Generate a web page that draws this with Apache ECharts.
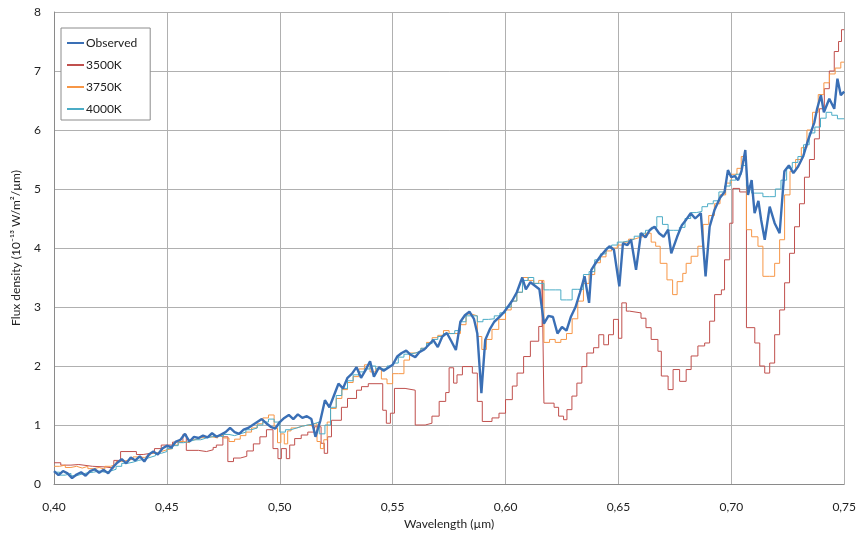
<!DOCTYPE html>
<html>
<head>
<meta charset="utf-8">
<script src="https://cdn.jsdelivr.net/npm/echarts@6/dist/echarts.min.js"></script>
<style>
html,body{margin:0;padding:0;background:#fff;}
#chart{width:859px;height:535px;}
</style>
</head>
<body>
<div id="chart"></div>
<script>
// Observed spectrum
const obsX = [0.400,0.402,0.404,0.406,0.408,0.410,0.412,0.414,0.416,0.418,0.420,0.422,0.424,0.426,0.428,0.430,0.432,0.434,0.436,0.438,0.440,0.442,0.444,0.446,0.448,0.450,0.452,0.454,0.456,0.458,0.460,0.462,0.464,0.466,0.468,0.470,0.472,0.474,0.476,0.478,0.480,0.482,0.484,0.486,0.488,0.490,0.492,0.494,0.496,0.498,0.500,0.502,0.504,0.506,0.508,0.510,0.512,0.514,0.5158,0.518,0.520,0.522,0.524,0.526,0.528,0.530,0.532,0.534,0.536,0.538,0.540,0.5417,0.544,0.546,0.548,0.550,0.552,0.554,0.556,0.558,0.560,0.562,0.564,0.566,0.568,0.570,0.572,0.574,0.576,0.578,0.580,0.582,0.584,0.586,0.5875,0.5893,0.591,0.593,0.595,0.597,0.599,0.601,0.603,0.605,0.6074,0.609,0.611,0.613,0.615,0.617,0.619,0.621,0.623,0.625,0.627,0.629,0.631,0.633,0.635,0.637,0.638,0.640,0.642,0.644,0.646,0.648,0.6504,0.652,0.654,0.6556,0.6578,0.660,0.662,0.664,0.666,0.668,0.670,0.672,0.6734,0.676,0.678,0.680,0.682,0.684,0.6865,0.6886,0.6904,0.6926,0.695,0.697,0.6985,0.700,0.7015,0.703,0.7045,0.7062,0.7074,0.709,0.7103,0.712,0.7132,0.7148,0.717,0.7192,0.7214,0.7235,0.7255,0.7275,0.7296,0.7318,0.734,0.7368,0.738,0.7397,0.741,0.7434,0.7456,0.747,0.7485,0.750];
const obsY = [0.22,0.15,0.22,0.18,0.10,0.16,0.20,0.14,0.22,0.25,0.19,0.24,0.18,0.28,0.36,0.42,0.35,0.45,0.40,0.47,0.38,0.50,0.55,0.50,0.60,0.65,0.62,0.72,0.75,0.85,0.72,0.80,0.78,0.82,0.79,0.86,0.80,0.84,0.88,0.95,0.88,0.85,0.92,0.95,1.00,1.05,1.10,1.03,0.97,0.94,1.05,1.12,1.17,1.10,1.18,1.12,1.15,1.10,0.80,1.08,1.42,1.30,1.50,1.70,1.62,1.80,1.87,1.98,1.80,1.93,2.08,1.82,1.98,1.92,1.97,2.02,2.16,2.22,2.26,2.19,2.15,2.24,2.28,2.36,2.44,2.32,2.50,2.56,2.42,2.27,2.75,2.86,2.92,2.80,2.55,1.54,2.44,2.62,2.75,2.82,2.90,3.00,3.11,3.25,3.50,3.30,3.42,3.36,3.30,2.72,2.85,2.83,2.55,2.66,2.60,2.84,3.00,3.25,3.52,3.07,3.63,3.75,3.86,3.95,4.03,3.97,3.35,4.08,4.05,4.14,3.63,4.25,4.18,4.31,4.36,4.25,4.19,4.31,3.91,4.19,4.38,4.48,4.59,4.50,4.59,3.52,4.36,4.65,4.85,4.95,5.32,5.20,5.22,5.15,5.30,5.66,4.90,5.15,4.59,4.80,4.48,4.14,4.70,4.42,4.25,5.30,5.40,5.27,5.38,5.55,5.83,6.13,6.36,6.59,6.30,6.53,6.36,6.87,6.59,6.65];

// 3500K model (step values, each held until next wavelength)
const m3500X = [0.400,0.403,0.4075,0.411,0.417,0.4225,0.4265,0.4295,0.4365,0.4395,0.4445,0.4475,0.4525,0.4571,0.4586,0.464,0.4675,0.4705,0.4719,0.4748,0.4770,0.4795,0.4825,0.4854,0.4883,0.4912,0.4941,0.4970,0.4992,0.5007,0.5029,0.5044,0.5066,0.5095,0.5124,0.5154,0.5183,0.5197,0.5212,0.5229,0.5273,0.5300,0.5340,0.5362,0.5392,0.5456,0.5472,0.5490,0.5508,0.5555,0.5600,0.5644,0.5674,0.5706,0.5735,0.5750,0.5770,0.5785,0.5809,0.5853,0.5875,0.5897,0.5940,0.5971,0.6000,0.6030,0.6051,0.6080,0.6110,0.6147,0.6162,0.6170,0.6215,0.6235,0.6257,0.6272,0.6294,0.6316,0.6338,0.6360,0.6390,0.6413,0.6435,0.6456,0.6478,0.6500,0.6515,0.6535,0.6549,0.6600,0.6622,0.6645,0.6675,0.6690,0.6720,0.6742,0.6771,0.6800,0.6822,0.6852,0.6882,0.6904,0.6926,0.6956,0.6970,0.6993,0.7007,0.7037,0.7067,0.7104,0.7126,0.7148,0.7170,0.7192,0.7214,0.7236,0.7258,0.7280,0.7302,0.7324,0.7346,0.7368,0.7390,0.7412,0.7434,0.7456,0.7475,0.7488,0.7500];
const m3500Y = [0.36,0.32,0.33,0.30,0.29,0.27,0.40,0.55,0.50,0.53,0.60,0.66,0.71,0.84,0.57,0.55,0.58,0.62,0.66,0.80,0.38,0.44,0.47,0.56,0.68,0.80,0.92,0.60,0.43,0.60,0.43,0.66,0.77,0.83,0.88,0.97,0.69,0.52,0.80,1.08,1.30,1.45,1.59,1.65,1.70,1.25,1.03,1.20,1.62,1.59,1.00,1.03,1.15,1.40,1.55,1.97,1.71,1.85,1.99,1.88,1.40,1.06,1.12,1.20,1.43,1.66,1.88,2.16,2.42,2.67,3.45,1.37,1.30,1.15,1.09,1.26,1.49,1.71,1.99,2.22,2.31,2.53,2.36,2.53,2.79,2.47,3.07,2.93,2.90,2.81,2.65,2.45,2.25,1.83,1.60,1.94,1.74,1.94,2.17,2.34,2.39,2.76,3.21,3.29,3.80,4.42,5.01,4.95,2.65,2.39,2.00,1.88,2.05,2.53,2.95,3.41,3.91,4.36,4.75,5.20,5.50,5.85,6.36,6.70,7.00,7.33,7.50,7.70,7.70];

// 3750K model
const m3750X = [0.400,0.4025,0.405,0.4075,0.410,0.4125,0.415,0.4175,0.420,0.4225,0.425,0.4275,0.430,0.4325,0.435,0.4375,0.440,0.4425,0.445,0.4475,0.450,0.4525,0.455,0.4575,0.460,0.4625,0.465,0.4675,0.470,0.4725,0.475,0.4775,0.480,0.4825,0.485,0.4875,0.490,0.4925,0.495,0.4975,0.499,0.5005,0.502,0.5035,0.505,0.5075,0.510,0.5125,0.515,0.5165,0.518,0.5195,0.521,0.5225,0.525,0.5275,0.530,0.5325,0.535,0.5375,0.540,0.5425,0.545,0.5475,0.550,0.5525,0.555,0.5575,0.560,0.5625,0.565,0.5675,0.570,0.5725,0.575,0.5775,0.580,0.5825,0.585,0.5875,0.5895,0.5915,0.594,0.597,0.600,0.6025,0.605,0.6075,0.610,0.6125,0.6147,0.617,0.6195,0.622,0.6245,0.627,0.6295,0.632,0.6345,0.637,0.6395,0.642,0.6445,0.647,0.6495,0.652,0.6545,0.657,0.6595,0.662,0.6645,0.6665,0.6685,0.6715,0.674,0.676,0.6785,0.680,0.6822,0.6852,0.6875,0.690,0.6925,0.695,0.6975,0.700,0.7025,0.7044,0.7067,0.709,0.7118,0.714,0.717,0.7192,0.7214,0.7236,0.726,0.7285,0.731,0.7335,0.736,0.7385,0.741,0.7435,0.746,0.7485,0.750];
const m3750Y = [0.30,0.32,0.28,0.30,0.27,0.30,0.26,0.28,0.25,0.30,0.33,0.38,0.40,0.42,0.46,0.45,0.48,0.52,0.55,0.58,0.60,0.66,0.72,0.70,0.75,0.78,0.80,0.80,0.78,0.82,0.78,0.72,0.76,0.82,0.88,0.95,1.02,1.12,1.17,0.95,0.70,0.85,0.68,0.90,0.95,0.98,1.00,0.98,1.02,0.72,0.60,0.75,1.05,1.28,1.45,1.60,1.72,1.82,1.95,2.02,1.90,1.95,1.78,1.70,1.87,1.87,2.10,2.22,2.25,2.30,2.40,2.48,2.52,2.60,2.55,2.55,2.70,2.88,2.85,2.50,2.28,2.45,2.62,2.79,2.95,3.10,3.25,3.50,3.45,3.40,3.45,2.40,2.45,2.40,2.45,2.55,2.80,3.10,3.40,3.55,3.75,3.85,3.95,4.00,4.05,4.10,4.15,4.18,4.20,4.25,4.10,4.03,3.74,3.46,3.21,3.43,3.57,3.74,3.86,4.03,4.40,4.55,4.75,4.90,5.10,5.25,5.35,5.55,4.31,4.19,4.03,3.52,3.52,3.74,4.14,4.90,5.30,5.50,5.70,6.00,6.30,6.60,6.80,6.95,7.05,7.15,7.15];

// 4000K model
const m4000X = [0.400,0.4025,0.405,0.4075,0.410,0.4125,0.415,0.4175,0.420,0.4225,0.425,0.4275,0.430,0.4325,0.435,0.4375,0.440,0.4425,0.445,0.4475,0.450,0.4525,0.455,0.4575,0.460,0.4625,0.465,0.4675,0.470,0.4725,0.475,0.4775,0.480,0.4825,0.485,0.4875,0.490,0.4925,0.495,0.4975,0.500,0.5025,0.505,0.5075,0.510,0.5125,0.515,0.5175,0.520,0.5225,0.525,0.5275,0.530,0.5325,0.535,0.5375,0.540,0.5425,0.545,0.5475,0.550,0.5525,0.555,0.5575,0.560,0.5625,0.565,0.5675,0.570,0.5725,0.575,0.5775,0.580,0.5825,0.585,0.5875,0.590,0.5925,0.595,0.5975,0.600,0.6025,0.605,0.6075,0.610,0.6125,0.615,0.617,0.6195,0.622,0.6245,0.627,0.6295,0.632,0.6345,0.637,0.6395,0.642,0.6445,0.647,0.6495,0.652,0.6545,0.657,0.6595,0.662,0.6645,0.667,0.6695,0.672,0.6745,0.677,0.6795,0.682,0.6845,0.687,0.6895,0.692,0.6945,0.697,0.6995,0.702,0.7045,0.7067,0.709,0.7118,0.714,0.717,0.7195,0.722,0.7245,0.727,0.7295,0.732,0.7345,0.737,0.7395,0.742,0.7445,0.747,0.750];
const m4000Y = [0.20,0.15,0.18,0.14,0.17,0.19,0.20,0.22,0.20,0.22,0.25,0.30,0.35,0.37,0.40,0.42,0.45,0.48,0.52,0.55,0.60,0.65,0.70,0.72,0.75,0.75,0.78,0.80,0.82,0.80,0.84,0.82,0.85,0.88,0.92,0.95,1.00,1.05,1.10,1.05,0.88,0.92,0.95,0.98,1.00,1.02,1.05,0.85,1.00,1.30,1.50,1.62,1.75,1.85,1.90,1.95,2.00,1.95,1.95,2.00,2.05,2.15,2.20,2.22,2.25,2.30,2.38,2.45,2.50,2.55,2.55,2.60,2.75,2.85,2.85,2.75,2.79,2.80,2.85,2.90,3.00,3.10,3.25,3.45,3.50,3.40,3.40,3.29,3.29,3.29,3.12,3.12,3.30,3.30,3.55,3.60,3.80,3.90,4.00,4.05,4.10,4.12,4.15,4.20,4.25,4.30,4.35,4.53,4.40,4.30,4.30,4.35,4.50,4.60,4.62,4.70,4.75,4.80,4.95,5.05,5.15,5.25,5.40,5.05,4.93,4.93,4.87,4.87,5.00,5.15,5.35,5.45,5.55,5.75,5.95,6.05,6.20,6.30,6.25,6.19,6.19];

const seriesNames = ['Observed', '3500K', '3750K', '4000K'];
const xTitle = 'Wavelength (µm)';
const yTitle = 'Flux density (10⁻¹³ W/m²/µm)';

const pairs = (xs, ys) => xs.map((x, i) => [x, ys[i]]);

const chart = echarts.init(document.getElementById('chart'), null, {renderer: 'canvas'});
const font = 'Lato';
chart.setOption({
  animation: false,
  backgroundColor: '#ffffff',
  textStyle: {fontFamily: font},
  grid: {left: 54, right: 13, top: 12, bottom: 51, containLabel: false},
  legend: {
    orient: 'vertical',
    left: 61, top: 28,
    padding: [8, 13, 4, 6],
    backgroundColor: '#ffffff',
    borderColor: '#8c8c8c',
    borderWidth: 1,
    itemWidth: 17, itemHeight: 2,
    itemGap: 8,
    icon: 'rect',
    textStyle: {fontFamily: font, fontSize: 12, color: '#222', padding: [0, 0, 0, -3], lineHeight: 14},
    data: seriesNames
  },
  xAxis: {
    type: 'value', min: 0.40, max: 0.75, interval: 0.05,
    name: xTitle, nameLocation: 'middle', nameGap: 33,
    nameTextStyle: {fontFamily: font, fontSize: 12, color: '#222'},
    axisLine: {show: true, lineStyle: {color: '#8a8a8a', width: 1}},
    axisTick: {show: false},
    axisLabel: {fontFamily: font, fontSize: 12, color: '#222', margin: 17,
      formatter: v => v.toFixed(2).replace('.', ',')},
    splitLine: {show: true, lineStyle: {color: '#b0b0b0', width: 1}}
  },
  yAxis: {
    type: 'value', min: 0, max: 8, interval: 1,
    name: yTitle, nameLocation: 'middle', nameGap: 32, nameRotate: 90,
    nameTextStyle: {fontFamily: font, fontSize: 12, color: '#222'},
    axisLine: {show: true, lineStyle: {color: '#8a8a8a', width: 1}},
    axisTick: {show: false},
    axisLabel: {fontFamily: font, fontSize: 12, color: '#222', margin: 13},
    splitLine: {show: true, lineStyle: {color: '#b0b0b0', width: 1}}
  },
  series: [
    {name: seriesNames[1], type: 'line', step: 'end', symbol: 'none', z: 2,
     color: '#c0504d', lineStyle: {width: 1, color: '#c0504d'}, data: pairs(m3500X, m3500Y)},
    {name: seriesNames[2], type: 'line', step: 'end', symbol: 'none', z: 2,
     color: '#f79646', lineStyle: {width: 1, color: '#f79646'}, data: pairs(m3750X, m3750Y)},
    {name: seriesNames[3], type: 'line', step: 'end', symbol: 'none', z: 2,
     color: '#4bacc6', lineStyle: {width: 1, color: '#4bacc6'}, data: pairs(m4000X, m4000Y)},
    {name: seriesNames[0], type: 'line', symbol: 'none', z: 4,
     color: '#3a6fb5', lineStyle: {width: 2.4, color: '#3a6fb5'}, data: pairs(obsX, obsY)}
  ]
});
</script>
</body>
</html>
